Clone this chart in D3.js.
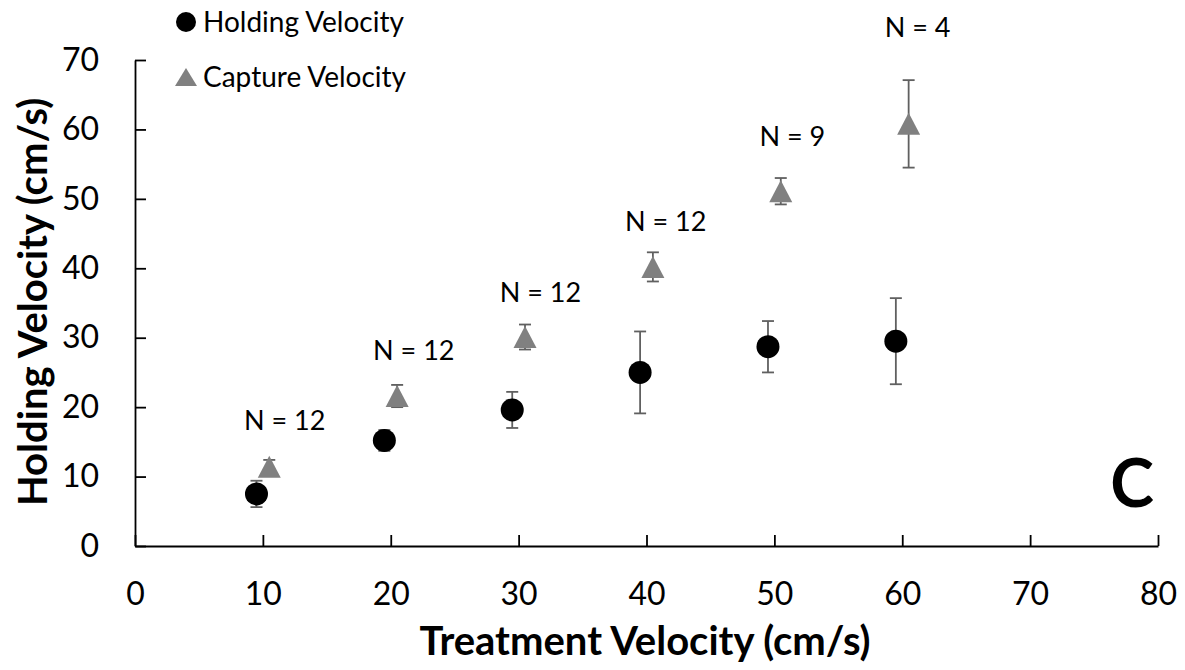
<!DOCTYPE html>
<html>
<head>
<meta charset="utf-8">
<script src="https://cdn.jsdelivr.net/npm/d3@7"></script>
<style>
  html, body { margin: 0; padding: 0; background: #fff; }
  svg { display: block; }
  text { font-family: Lato, "Open Sans", "Noto Sans", sans-serif; fill: #000; }
</style>
</head>
<body>
<svg id="chart" width="1185" height="670"></svg>
<script>
// ---- data ----
const holdingX   = [9.5, 19.5, 29.5, 39.5, 49.5, 59.5];
const holdingY   = [7.5, 15.2, 19.6, 25.0, 28.7, 29.5];
const holdingErr = [1.9, 1.5, 2.6, 5.9, 3.7, 6.2];

const captureX   = [10.5, 20.5, 30.5, 40.5, 50.5, 60.5];
const captureY   = [11.4, 21.6, 30.1, 40.2, 51.1, 60.8];
const captureErr = [1.0, 1.6, 1.8, 2.1, 1.9, 6.3];

const nLabels  = ["N = 12", "N = 12", "N = 12", "N = 12", "N = 9", "N = 4"];
const nLabelX  = [11.7, 21.8, 31.7, 41.5, 51.4, 61.2];
const nLabelY  = [16.7, 26.8, 35.1, 45.3, 57.6, 73.3];

const xTicks = [0, 10, 20, 30, 40, 50, 60, 70, 80];
const yTicks = [0, 10, 20, 30, 40, 50, 60, 70];

const legendLabels = ["Holding Velocity", "Capture Velocity"];

// ---- layout ----
const svg = d3.select("#chart");
const mLeft = 135, mRight = 1158, mTop = 60, mBottom = 546;

const x = d3.scaleLinear().domain([0, 80]).range([mLeft, mRight]);
const y = d3.scaleLinear().domain([0, 70]).range([mBottom, mTop]);

const axisColor = "#000";
const fontFam = "Lato, 'Open Sans', sans-serif";

// x axis (ticks inside, pointing up)
const xAxis = svg.append("g")
  .attr("transform", `translate(0,${mBottom})`)
  .call(d3.axisBottom(x).tickValues(xTicks).tickSizeInner(-11).tickSizeOuter(0).tickPadding(36));
xAxis.select(".domain").attr("stroke", axisColor).attr("stroke-width", 1.8);
xAxis.selectAll(".tick line").attr("stroke", axisColor).attr("stroke-width", 1.8);
xAxis.selectAll(".tick text").attr("font-size", 32).attr("font-family", fontFam).attr("fill", "#000");

// y axis (ticks inside, pointing right)
const yAxis = svg.append("g")
  .attr("transform", `translate(${mLeft},0)`)
  .call(d3.axisLeft(y).tickValues(yTicks).tickSizeInner(-11).tickSizeOuter(0).tickPadding(36));
yAxis.select(".domain").attr("stroke", axisColor).attr("stroke-width", 1.8);
yAxis.selectAll(".tick line").attr("stroke", axisColor).attr("stroke-width", 1.8);
yAxis.selectAll(".tick text").attr("font-size", 32).attr("font-family", fontFam).attr("fill", "#000");

// axis titles
svg.append("text")
  .attr("x", 645).attr("y", 655)
  .attr("text-anchor", "middle")
  .attr("font-size", 40).attr("font-weight", "bold")
  .text("Treatment Velocity (cm/s)");

svg.append("text")
  .attr("transform", `translate(47,302) rotate(-90)`)
  .attr("text-anchor", "middle")
  .attr("font-size", 40).attr("font-weight", "bold")
  .text("Holding Velocity (cm/s)");

// panel letter
svg.append("text")
  .attr("x", 1132).attr("y", 507)
  .attr("text-anchor", "middle")
  .attr("font-size", 66).attr("font-weight", "bold")
  .text("C");

const errColor = "#606060";
const capHalf = 6;

function drawErr(xs, ys, es) {
  const g = svg.append("g");
  xs.forEach((xv, i) => {
    const cx = x(xv);
    const y1 = y(ys[i] + es[i]), y2 = y(ys[i] - es[i]);
    g.append("line").attr("x1", cx).attr("x2", cx).attr("y1", y1).attr("y2", y2)
      .attr("stroke", errColor).attr("stroke-width", 1.8);
    [y1, y2].forEach(yy => g.append("line")
      .attr("x1", cx - capHalf).attr("x2", cx + capHalf).attr("y1", yy).attr("y2", yy)
      .attr("stroke", errColor).attr("stroke-width", 1.8));
  });
}

drawErr(holdingX, holdingY, holdingErr);
drawErr(captureX, captureY, captureErr);

// holding circles
svg.append("g").selectAll("circle")
  .data(holdingX.map((v, i) => [v, holdingY[i]]))
  .join("circle")
  .attr("cx", d => x(d[0])).attr("cy", d => y(d[1]))
  .attr("r", 11.5).attr("fill", "#000");

// capture triangles
const triW = 23, triH = 22;
const triPath = `M0,${-triH/2} L${triW/2},${triH/2} L${-triW/2},${triH/2} Z`;
svg.append("g").selectAll("path")
  .data(captureX.map((v, i) => [v, captureY[i]]))
  .join("path")
  .attr("d", triPath)
  .attr("transform", d => `translate(${x(d[0])},${y(d[1])})`)
  .attr("fill", "#808080");

// N labels
svg.append("g").selectAll("text")
  .data(nLabels.map((t, i) => [t, nLabelX[i], nLabelY[i]]))
  .join("text")
  .attr("x", d => x(d[1])).attr("y", d => y(d[2]))
  .attr("text-anchor", "middle")
  .attr("font-size", 27)
  .text(d => d[0]);

// legend
const lg = svg.append("g");
lg.append("circle").attr("cx", 186).attr("cy", 22).attr("r", 10).attr("fill", "#000");
lg.append("path")
  .attr("d", `M0,-9 L11,9 L-11,9 Z`)
  .attr("transform", "translate(186,77)")
  .attr("fill", "#808080");
lg.selectAll("text.leg")
  .data(legendLabels)
  .join("text")
  .attr("class", "leg")
  .attr("x", 203).attr("y", (d, i) => 32 + i * 55)
  .attr("font-size", 28)
  .text(d => d);
</script>
</body>
</html>
